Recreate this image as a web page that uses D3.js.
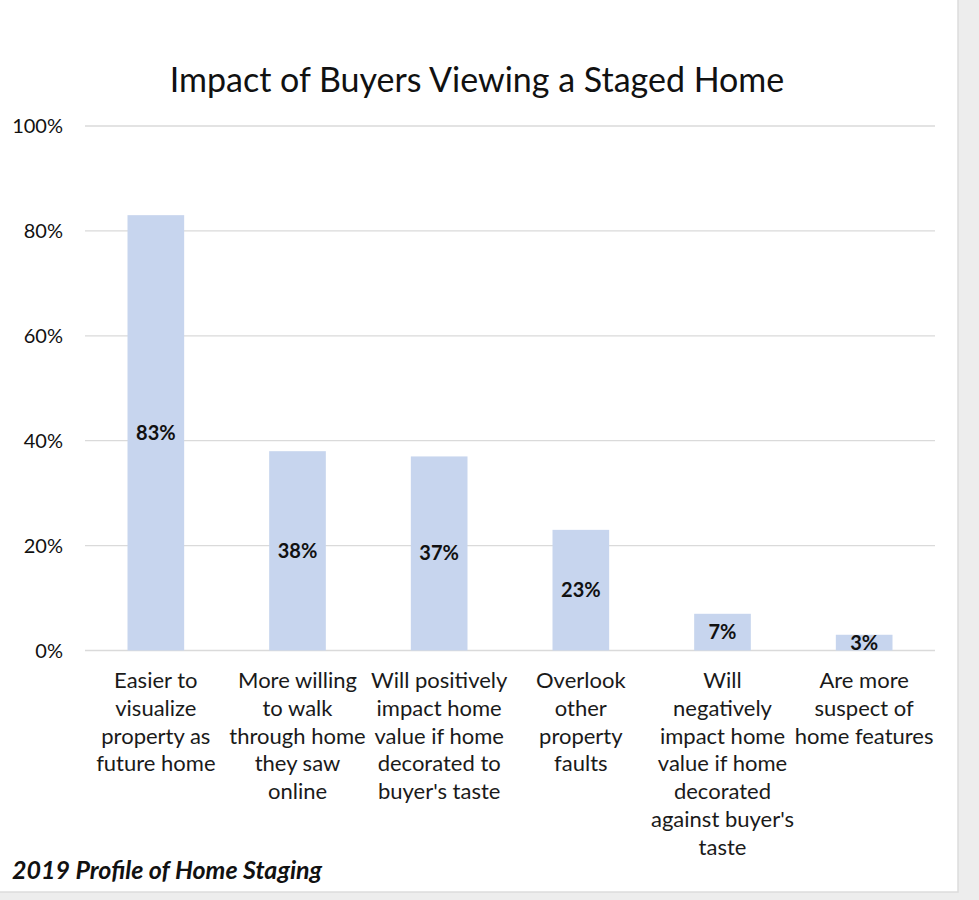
<!DOCTYPE html>
<html><head><meta charset="utf-8">
<script src="https://cdn.jsdelivr.net/npm/d3@7"></script>
<style>
html,body{margin:0;padding:0;background:#ededed;}
svg{display:block;}
</style></head>
<body>
<svg id="chart" width="979" height="900"></svg>
<script>
const title = "Impact of Buyers Viewing a Staged Home";
const source = "2019 Profile of Home Staging";
const categories = [
  ["Easier to","visualize","property as","future home"],
  ["More willing","to walk","through home","they saw","online"],
  ["Will positively","impact home","value if home","decorated to","buyer's taste"],
  ["Overlook","other","property","faults"],
  ["Will","negatively","impact home","value if home","decorated","against buyer's","taste"],
  ["Are more","suspect of","home features"]
];
const values = [83, 38, 37, 23, 7, 3];
const yTicks = [0, 20, 40, 60, 80, 100];

const svg = d3.select("#chart");
const font = "Lato, 'Open Sans', sans-serif";

// card
svg.append("rect").attr("x",-2).attr("y",-2).attr("width",960).attr("height",894)
  .attr("fill","#fff").attr("stroke","#dcdcdc").attr("stroke-width",1.5);

const x = d3.scaleBand().domain(d3.range(values.length)).range([85, 935])
  .paddingInner(0.6).paddingOuter(0.3);
const y = d3.scaleLinear().domain([0, 100]).range([650.5, 126]);

// gridlines
svg.append("g").selectAll("line").data(yTicks).join("line")
  .attr("x1",85).attr("x2",935)
  .attr("y1",d=>y(d)).attr("y2",d=>y(d))
  .attr("stroke","#dadada").attr("stroke-width",1.3);

// y labels
svg.append("g").selectAll("text").data(yTicks).join("text")
  .attr("x",63).attr("y",d=>y(d)+7)
  .attr("text-anchor","end").attr("font-family",font).attr("font-size",20)
  .attr("fill","#111").text(d=>d+"%");

// bars
svg.append("g").selectAll("rect").data(values).join("rect")
  .attr("x",(d,i)=>x(i)).attr("width",x.bandwidth())
  .attr("y",d=>y(d)).attr("height",d=>y(0)-y(d))
  .attr("fill","#c7d5ee");

// value labels
svg.append("g").selectAll("text").data(values).join("text")
  .attr("x",(d,i)=>x(i)+x.bandwidth()/2)
  .attr("y",d=>Math.max((y(d)+y(0))/2, y(d)+8)+7)
  .attr("text-anchor","middle").attr("font-family",font).attr("font-weight","bold")
  .attr("font-size",20).attr("fill","#111").text(d=>d+"%");

// category labels
const cat = svg.append("g");
categories.forEach((lines,i)=>{
  const t = cat.append("text").attr("text-anchor","middle")
    .attr("font-family",font).attr("font-size",22).attr("fill","#1a1a1a");
  lines.forEach((ln,j)=>{
    t.append("tspan").attr("x",x(i)+x.bandwidth()/2).attr("y",688+j*27.8).text(ln);
  });
});

// title
svg.append("text").attr("x",477).attr("y",92).attr("text-anchor","middle")
  .attr("font-family",font).attr("font-size",34).attr("fill","#111").text(title);

// source
svg.append("text").attr("x",12).attr("y",879)
  .attr("font-family",font).attr("font-size",25).attr("font-weight","bold")
  .attr("font-style","italic").attr("fill","#111").text(source);
</script>
</body></html>
